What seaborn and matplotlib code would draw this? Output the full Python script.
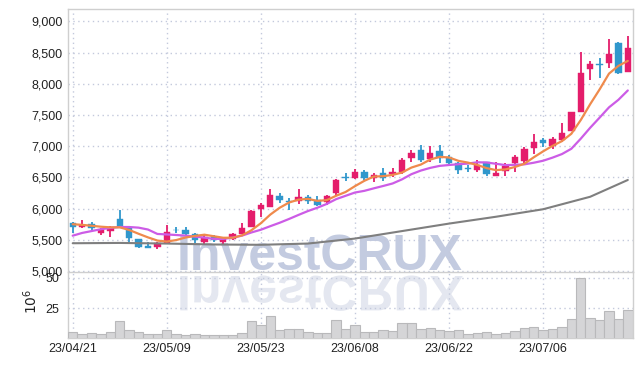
import numpy as np
import pandas as pd
import matplotlib
matplotlib.use("Agg")
import matplotlib.pyplot as plt
import seaborn as sns
from matplotlib.textpath import TextPath
from matplotlib.patches import PathPatch
from matplotlib.font_manager import FontProperties
from matplotlib.transforms import Affine2D, IdentityTransform
from matplotlib.ticker import FuncFormatter

# ---------------- data ----------------
tick_idx = [0, 10, 20, 30, 40, 50]
tick_labels = ["23/04/21", "23/05/09", "23/05/23", "23/06/08", "23/06/22", "23/07/06"]

open_ = [5770, 5705, 5750, 5610, 5640, 5830, 5690, 5510, 5400, 5390,
         5450, 5660, 5660, 5590, 5470, 5540, 5470, 5510, 5590, 5710,
         5990, 6030, 6200, 6120, 6120, 6190, 6140, 6110, 6250, 6510,
         6490, 6590, 6490, 6570, 6560, 6590, 6810, 6940, 6800, 6920,
         6830, 6730, 6650, 6620, 6750, 6520, 6600, 6730, 6760, 6970,
         7100, 7000, 7100, 7240, 7550, 8240, 8320, 8330, 8650, 8190]
high = [5785, 5820, 5790, 5690, 5720, 5980, 5700, 5520, 5470, 5470,
        5740, 5710, 5710, 5610, 5590, 5580, 5550, 5610, 5770, 5970,
        6090, 6310, 6250, 6170, 6310, 6220, 6200, 6220, 6480, 6570,
        6640, 6620, 6570, 6650, 6650, 6810, 6940, 7020, 7000, 7020,
        6860, 6740, 6700, 6780, 6750, 6750, 6730, 6860, 6990, 7200,
        7130, 7150, 7370, 7550, 8510, 8370, 8420, 8720, 8670, 8770]
low = [5610, 5690, 5660, 5580, 5540, 5690, 5460, 5370, 5370, 5350,
       5450, 5610, 5560, 5450, 5430, 5460, 5430, 5500, 5590, 5700,
       5870, 6020, 6090, 5980, 6070, 6070, 6040, 6060, 6220, 6440,
       6470, 6460, 6430, 6440, 6510, 6550, 6750, 6750, 6750, 6730,
       6680, 6550, 6590, 6590, 6520, 6520, 6520, 6590, 6710, 6870,
       6990, 6960, 7070, 7240, 7550, 8060, 8090, 8250, 8160, 8190]
close = [5705, 5740, 5690, 5660, 5705, 5705, 5530, 5385, 5370, 5450,
         5625, 5650, 5590, 5500, 5545, 5500, 5530, 5590, 5690, 5960,
         6060, 6220, 6140, 6110, 6190, 6120, 6060, 6200, 6460, 6490,
         6590, 6490, 6540, 6490, 6590, 6780, 6890, 6780, 6890, 6810,
         6730, 6620, 6640, 6700, 6555, 6570, 6680, 6830, 6960, 7070,
         7050, 7120, 7210, 7550, 8170, 8320, 8300, 8480, 8170, 8570]
volume = [6.0, 4.4, 5.2, 4.4, 6.0, 15.1, 7.8, 6.0, 4.4, 4.4,
          7.8, 4.4, 3.2, 4.4, 3.5, 3.2, 3.2, 3.5, 5.2, 15.1,
          11.6, 18.5, 7.8, 8.4, 8.4, 6.0, 5.2, 5.2, 15.6, 8.4,
          11.6, 6.0, 6.0, 7.5, 6.7, 13.2, 13.2, 8.4, 9.2, 7.8,
          7.0, 7.8, 4.4, 5.2, 6.0, 4.4, 5.2, 7.0, 9.2, 10.0,
          7.8, 8.4, 10.0, 16.4, 49.5, 17.2, 15.9, 23.1, 16.4, 23.9]

# moving-average values at the start of the window (prior data not shown)
ma5_head = [5750, 5740, 5725, 5710]
ma10_head = [5566, 5610, 5640, 5670, 5690, 5705, 5705, 5695, 5665]
# 60-day average
ma60_idx = [0, 5, 10, 15, 20, 25, 30, 35, 40, 45, 50, 55, 59]
ma60_val = [5445, 5450, 5440, 5425, 5420, 5440, 5520, 5640, 5760, 5870, 5990, 6190, 6459]

# ---------------- style ----------------
sns.set_style("white")
plt.rcParams["font.family"] = ["Liberation Sans", "DejaVu Sans"]

UP = "#e41d6b"
DOWN = "#3097cc"
GRID = "#c3c9dc"
SPINE = "#cfcfcf"
TXT = "#222222"

W, H = 642, 366
fig = plt.figure(figsize=(W / 100, H / 100), dpi=100)
fig.patch.set_facecolor("white")
L, R = 68 / W, 632.5 / W
ax = fig.add_axes([L, 1 - 272 / H, R - L, (272 - 9) / H])
axv = fig.add_axes([L, 1 - 337.5 / H, R - L, (337.5 - 272) / H], sharex=ax)
for a in (ax, axv):
    a.set_facecolor("none")

n = len(close)
idx = np.arange(n)
o = np.array(open_, float)
c = np.array(close, float)
hi = np.array(high, float)
lo = np.array(low, float)

# candles
for i in range(n):
    col = UP if c[i] >= o[i] else DOWN
    ax.vlines(i, lo[i], hi[i], color=col, lw=1.3, zorder=3)
    bh = max(abs(c[i] - o[i]), 14)
    ax.bar(i, bh, bottom=min(o[i], c[i]), width=0.68, color=col,
           edgecolor=col, lw=0.3, zorder=3)

# moving averages
s = pd.Series(c)
ma5 = s.rolling(5).mean().to_numpy()
ma5[:len(ma5_head)] = ma5_head
ma10 = s.rolling(10).mean().to_numpy()
ma10[:len(ma10_head)] = ma10_head

sns.lineplot(x=ma60_idx, y=ma60_val, ax=ax, color="#7f7f7f", lw=1.5, zorder=4)
sns.lineplot(x=idx, y=ma10, ax=ax, color="#cc5ce6", lw=1.6, zorder=4)
sns.lineplot(x=idx, y=ma5, ax=ax, color="#ef8a4c", lw=1.6, zorder=5)

# volume
axv.bar(idx, volume, width=1.0, color="#d5d5d7", edgecolor="#b9b9bb", lw=0.8, zorder=3)

# axes limits / ticks
ax.set_xlim(-0.5, n - 0.5)
ax.set_ylim(4984, 9200)
ax.set_yticks(np.arange(5000, 9001, 500))
ax.yaxis.set_major_formatter(FuncFormatter(lambda v, p: f"{int(v):,}"))
ax.set_xticks(tick_idx)
ax.tick_params(axis="x", labelbottom=False, length=0)
ax.tick_params(axis="y", length=0, labelsize=9, labelcolor=TXT, pad=4)

axv.set_ylim(1.5, 54.5)
axv.set_yticks([25, 50])
axv.set_xticks(tick_idx)
axv.set_xticklabels(tick_labels)
axv.tick_params(axis="x", length=0, labelsize=9, labelcolor=TXT, pad=4)
axv.tick_params(axis="y", length=0, labelsize=9, labelcolor=TXT, pad=6)

for a in (ax, axv):
    a.grid(True, ls=(0, (1, 2.5)), color=GRID, lw=1.0, zorder=0)
    a.set_axisbelow(True)
    a.set_xlabel("")
    a.set_ylabel("")
    for sp in a.spines.values():
        sp.set_color(SPINE)
        sp.set_linewidth(1.0)
axv.spines["top"].set_visible(False)

fig.text(31 / W, 1 - 301 / H, r"$10^6$", rotation=90, ha="center", va="center",
         fontsize=10, color=TXT)

# watermark + reflection
wm_font = FontProperties(family="Liberation Sans", weight="bold", size=36)
fig.text(177 / W, (H - 270) / H, "InvestCRUX", fontproperties=wm_font,
         color="#c3cbe0", ha="left", va="baseline", zorder=-2)
tp = TextPath((0, 0), "InvestCRUX", size=50, prop=wm_font)
refl = tp.transformed(Affine2D().scale(1, -1).translate(177, H - 276))
fig.add_artist(PathPatch(refl, transform=IdentityTransform(), facecolor="#e4e7f0",
                         edgecolor="none", zorder=-2))

fig.savefig("out.png", dpi=100, facecolor="white")
